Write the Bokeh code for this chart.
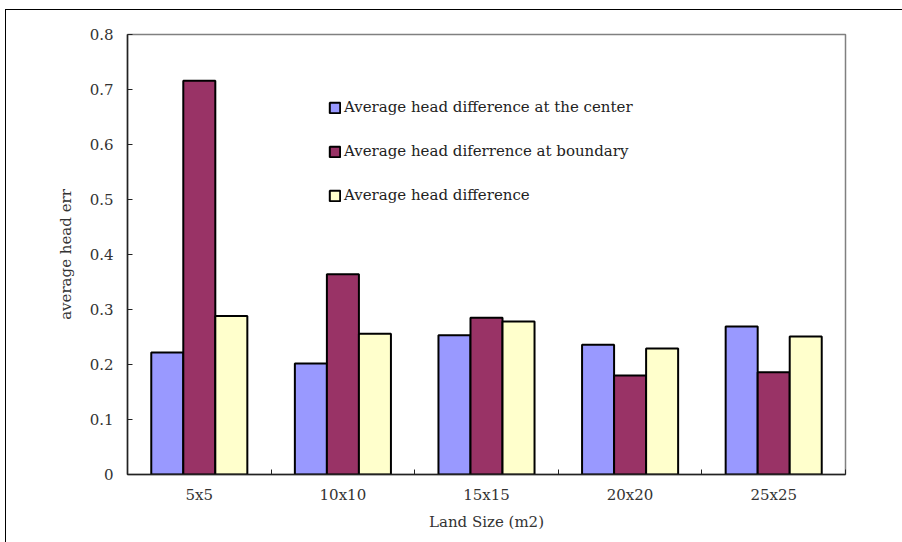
from bokeh.plotting import figure
from bokeh.models import ColumnDataSource, FixedTicker, Range1d, Legend, LegendItem
from bokeh.embed import file_html
from bokeh.resources import INLINE

# Land sizes and the three averaged head errors for each
categories = ["5x5", "10x10", "15x15", "20x20", "25x25"]
center_diff = [0.222, 0.202, 0.253, 0.236, 0.269]
boundary_diff = [0.716, 0.364, 0.285, 0.180, 0.186]
overall_diff = [0.288, 0.256, 0.278, 0.229, 0.251]

series_names = [
    "Average head difference at the center",
    "Average head diferrence at boundary",
    "Average head difference",
]
series_values = [center_diff, boundary_diff, overall_diff]
series_colors = ["#9999FF", "#993366", "#FFFFCC"]

y_ticks = [0.0, 0.1, 0.2, 0.3, 0.4, 0.5, 0.6, 0.7, 0.8]
y_tick_labels = ["0", "0.1", "0.2", "0.3", "0.4", "0.5", "0.6", "0.7", "0.8"]

FONT = "DejaVu Serif"
FSIZE = "15px"

p = figure(
    width=897, height=533,
    x_range=Range1d(0, len(categories)),
    y_range=Range1d(0, 0.8),
    output_backend="svg", toolbar_location=None,
    min_border_left=121, min_border_right=58,
    min_border_top=24, min_border_bottom=69,
)
p.margin = (9, 0, 0, 5)
p.styles = {"border-top": "1px solid #000000", "border-left": "1px solid #000000"}

p.background_fill_color = "white"
p.border_fill_color = "white"
p.outline_line_color = "#808080"
p.outline_line_width = 1.5
p.xgrid.visible = False
p.ygrid.visible = False

centers = [i + 0.5 for i in range(len(categories))]
bar_w = 0.223
offsets = [-bar_w, 0.0, bar_w]

items = []
for name, vals, col, off in zip(series_names, series_values, series_colors, offsets):
    src = ColumnDataSource(dict(x=[c + off for c in centers], top=vals))
    r = p.vbar(x="x", top="top", bottom=0, width=bar_w, source=src,
               fill_color=col, line_color="black", line_width=2)
    items.append(LegendItem(label=name, renderers=[r]))

legend = Legend(items=items, location=(201, 270), orientation="vertical")
legend.border_line_color = None
legend.background_fill_alpha = 0
legend.padding = 0
legend.margin = 0
legend.spacing = 26
legend.glyph_width = 13
legend.glyph_height = 13
legend.label_standoff = 3
legend.label_text_font = FONT
legend.label_text_font_size = FSIZE
legend.label_text_color = "#222222"
p.add_layout(legend, "center")

# y axis: inward ticks, plain labels
yax = p.yaxis[0]
yax.ticker = FixedTicker(ticks=y_ticks)
yax.major_label_overrides = {t: s for t, s in zip(y_ticks, y_tick_labels)}
yax.major_tick_in = 5
yax.major_tick_out = 0
yax.minor_tick_line_color = None
yax.axis_line_color = "#222222"
yax.axis_line_width = 1.5
yax.major_tick_line_color = "#222222"
yax.major_label_text_font = FONT
yax.major_label_text_font_size = FSIZE
yax.major_label_text_color = "#333333"
yax.major_label_standoff = 14
yax.axis_label = "average head err"
yax.axis_label_text_font = FONT
yax.axis_label_text_font_size = FSIZE
yax.axis_label_text_font_style = "normal"
yax.axis_label_text_color = "#333333"
yax.axis_label_standoff = 12

# x axis: category names at centres, tick marks at category boundaries
xax = p.xaxis[0]
xax.ticker = FixedTicker(ticks=centers,
                         minor_ticks=list(range(len(categories) + 1)))
xax.major_label_overrides = {c: s for c, s in zip(centers, categories)}
xax.major_tick_in = 0
xax.major_tick_out = 0
xax.minor_tick_in = 5
xax.minor_tick_out = 0
xax.minor_tick_line_color = "#222222"
xax.axis_line_color = "#222222"
xax.axis_line_width = 1.5
xax.major_label_text_font = FONT
xax.major_label_text_font_size = FSIZE
xax.major_label_text_color = "#333333"
xax.major_label_standoff = 11
xax.axis_label = "Land Size (m2)"
xax.axis_label_text_font = FONT
xax.axis_label_text_font_size = FSIZE
xax.axis_label_text_font_style = "normal"
xax.axis_label_text_color = "#333333"
xax.axis_label_standoff = 6

open("out.html", "w").write(file_html(p, INLINE))
